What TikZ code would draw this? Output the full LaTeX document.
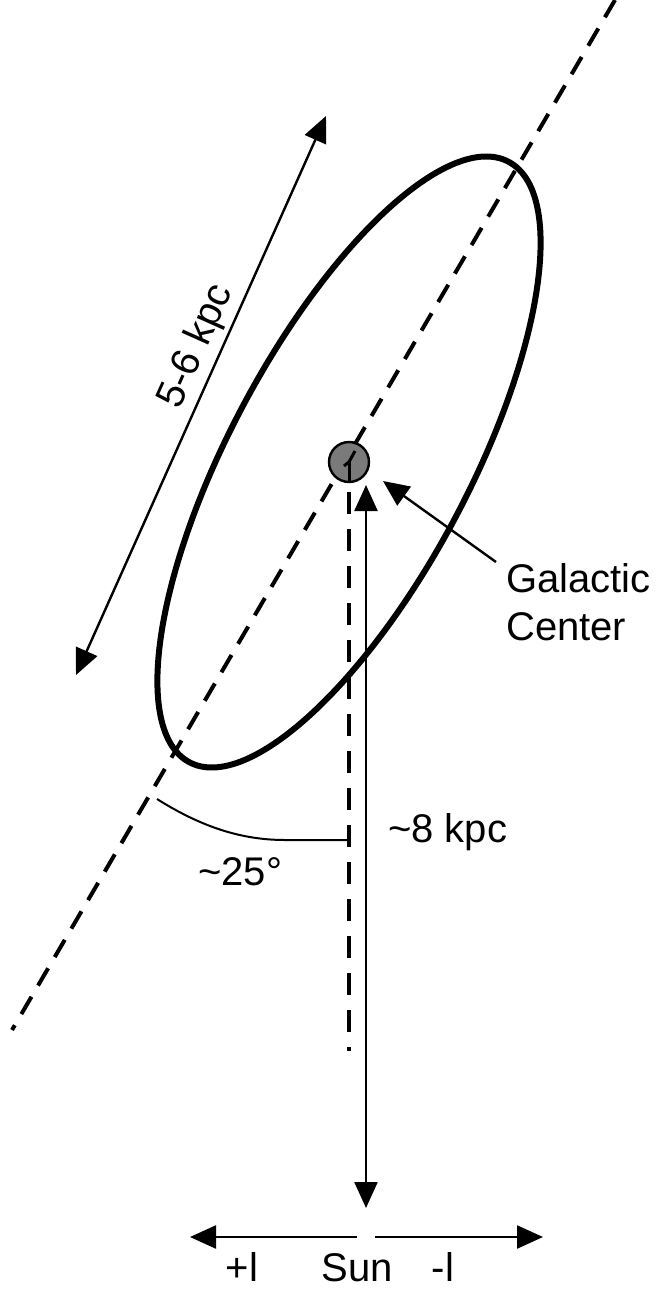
\documentclass[tikz,border=0pt]{standalone}
\usepackage{fontspec}
\setmainfont{Liberation Sans}
\usetikzlibrary{arrows.meta}
\begin{document}
\begin{tikzpicture}[x=1pt,y=1pt,
  thinline/.style={line width=2.4pt},
  bigtip/.style={-{Triangle[length=26pt,width=23pt]}},
  bothtips/.style={{Triangle[length=26pt,width=23pt]}-{Triangle[length=26pt,width=23pt]}},
  axisdash/.style={line width=4pt, dash pattern=on 20pt off 13pt},
  lbl/.style={font=\fontsize{40}{46}\selectfont, inner sep=0pt},
]
\useasboundingbox (0,0) rectangle (657,-1290);
% galactic centre and main axis
\coordinate (c) at (349,-462);
\coordinate (axA) at (615,0);
\coordinate (axB) at (12,-1030);
\draw[axisdash] (axA) -- (axB);
% bar ellipse
\draw[line width=6pt] (c) circle [x radius=340pt, y radius=120pt, rotate=62];
% vertical dashed line of sight
\coordinate (vdTop) at (349,-484);
\coordinate (vdBot) at (349,-1051);
\draw[line width=4pt, dash pattern=on 22pt off 15pt, dash phase=18pt] (vdBot) -- (vdTop);
% centre disc
\node (gc) [circle, draw, line width=2.4pt, fill={rgb,255:red,122;green,122;blue,122},
  minimum size=40pt, inner sep=0pt] at (c) {};
\coordinate (m1) at (344,-466);
\coordinate (m2) at (355,-451);
\coordinate (m3) at (349,-482);
\draw[line width=3pt] (m1) -- (c) -- (m2);
\draw[line width=3pt] (c) -- (m3);
% distance arrow Sun - GC
\coordinate (sunTip) at (366,-1208);
\coordinate (gcTip) at (366,-485);
\draw[thinline, bothtips] (sunTip) -- (gcTip);
\node[lbl, anchor=base west] (d8) at (388,-842) {\textasciitilde 8 kpc};
% 5-6 kpc arrow
\coordinate (kA) at (76,-675);
\coordinate (kB) at (326,-116);
\draw[thinline, bothtips] (kA) -- node[lbl, pos=0.57, sloped, above, inner sep=4pt] (len) {5-6 kpc} (kB);
% pointer to galactic centre
\coordinate (ptrTail) at (496,-562);
\coordinate (ptrTip) at (383,-481);
\draw[thinline, bigtip] (ptrTail) -- (ptrTip);
\node[lbl, anchor=base west] (gal) at (506,-592) {Galactic};
\node[lbl, anchor=base west] (cen) at (506,-640) {Center};
% angle
\coordinate (arcA) at (157,-799);
\coordinate (arcB) at (285,-840);
\coordinate (arcC) at (347,-840);
\draw[line width=2pt] (arcA) .. controls (200,-826) and (240,-840) .. (arcB) -- (arcC);
\node[lbl, anchor=base west] (ang) at (198,-885) {\textasciitilde 25°};
% longitude arrows at the Sun
\coordinate (hL0) at (357,-1237);
\coordinate (hL) at (190,-1237);
\coordinate (hR0) at (375,-1237);
\coordinate (hR) at (543,-1237);
\draw[thinline, bigtip] (hL0) -- (hL);
\draw[thinline, bigtip] (hR0) -- (hR);
\node[lbl, anchor=base] (pl) at (242,-1281) {+l};
\node[lbl, anchor=base] (sun) at (357,-1281) {Sun};
\node[lbl, anchor=base] (ml) at (443,-1281) {-l};
\end{tikzpicture}
\end{document}
